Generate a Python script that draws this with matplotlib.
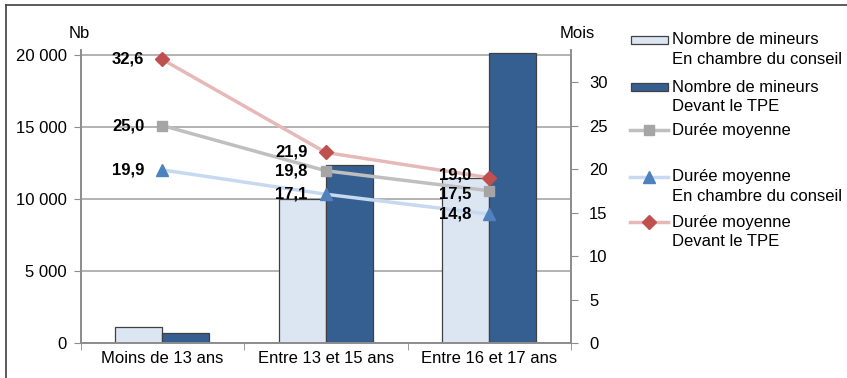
import matplotlib.pyplot as plt
from matplotlib.lines import Line2D
from matplotlib.patches import Rectangle
import numpy as np

plt.rcParams['font.family'] = ['Liberation Sans', 'DejaVu Sans']
plt.rcParams['font.size'] = 12

categories = ["Moins de 13 ans", "Entre 13 et 15 ans", "Entre 16 et 17 ans"]
nb_chambre = [1090, 9980, 11440]
nb_tpe = [720, 12360, 20120]
duree_moyenne = [25.0, 19.8, 17.5]
duree_chambre = [19.9, 17.1, 14.8]
duree_tpe = [32.6, 21.9, 19.0]

legend_labels = [
    "Nombre de mineurs\nEn chambre du conseil",
    "Nombre de mineurs\nDevant le TPE",
    "Durée moyenne",
    "Durée moyenne\nEn chambre du conseil",
    "Durée moyenne\nDevant le TPE",
]

W, H = 847, 378
fig = plt.figure(figsize=(W / 100, H / 100), dpi=100)
ax = fig.add_axes([80.5 / W, (H - 343) / H, (571 - 80.5) / W, 293 / H])
ax2 = ax.twinx()

axis_grey = "#8c8c8c"
grid_grey = "#a6a6a6"
c_light, c_dark = "#dce6f2", "#365f91"
e_bar = "#404040"

x = np.arange(len(categories))
bw = 0.286
ax.bar(x - bw / 2, nb_chambre, bw, color=c_light, edgecolor=e_bar, linewidth=0.9, zorder=2)
ax.bar(x + bw / 2, nb_tpe, bw, color=c_dark, edgecolor=e_bar, linewidth=0.9, zorder=2)

ax.set_xlim(-0.5, 2.5)
ax.set_ylim(0, 20347)
ax.set_yticks(range(0, 20001, 5000))
ax.set_yticklabels([f"{v:,}".replace(",", " ") for v in range(0, 20001, 5000)])
ax.yaxis.grid(True, color=grid_grey, linewidth=1.2, zorder=0)
ax.set_axisbelow(True)
ax.set_xticks(x)
ax.set_xticklabels(categories)
ax.set_xticks([-0.5, 0.5, 1.5, 2.5], minor=True)
ax.tick_params(axis="x", which="major", length=0, pad=6)
ax.tick_params(axis="x", which="minor", length=5, color=axis_grey)
ax.tick_params(axis="y", length=5, color=axis_grey, pad=5)

line_specs = [
    (duree_moyenne, "#bfbfbf", "#a5a5a5", "s", 7),
    (duree_chambre, "#c6d9f1", "#4f81bd", "^", 8),
    (duree_tpe, "#e6b9b8", "#c0504d", "D", 7),
]
# small vertical nudges (pixels) so the crowded labels don't collide
label_dy = [[0, 0, -3], [0, 0, 0], [0, 0, 3]]
for (vals, lc, mc, mk, ms), dys in zip(line_specs, label_dy):
    ax2.plot(x, vals, color=lc, linewidth=2.5, marker=mk, markersize=ms,
             markerfacecolor=mc, markeredgecolor=mc, zorder=3)
    for xi, v, dy in zip(x, vals, dys):
        ax2.annotate(f"{v:.1f}".replace(".", ","), (xi, v), xytext=(-18, dy),
                     textcoords="offset pixels", ha="right", va="center",
                     fontweight="bold", fontsize=12)

ax2.set_ylim(0, 33.68)
ax2.set_yticks(range(0, 31, 5))
ax2.tick_params(axis="y", length=5, color=axis_grey, pad=8)

for a in (ax, ax2):
    a.spines["top"].set_visible(False)
    for s in ("left", "right", "bottom"):
        a.spines[s].set_color(axis_grey)
        a.spines[s].set_linewidth(1.2)


def fx(px):
    return px / W


def fy(py):
    return 1 - py / H


fig.text(fx(69), fy(33), "Nb", ha="left", va="center")
fig.text(fx(560), fy(33), "Mois", ha="left", va="center")

# legend drawn by hand to match the original spacing
leg_y = [40, 87, 130, 177, 222]
for i, (lab, y) in enumerate(zip(legend_labels, leg_y)):
    if i < 2:
        fig.add_artist(Rectangle((fx(631), fy(y + 4)), 37 / W, 8 / H,
                                 facecolor=[c_light, c_dark][i],
                                 edgecolor=e_bar, linewidth=0.9,
                                 transform=fig.transFigure))
    else:
        vals, lc, mc, mk, ms = line_specs[i - 2]
        fig.add_artist(Line2D([fx(630), fx(668)], [fy(y), fy(y)], color=lc,
                              linewidth=2.5, transform=fig.transFigure))
        fig.add_artist(Line2D([fx(649)], [fy(y)], marker=mk, markersize=ms,
                              color=mc, linestyle="none",
                              transform=fig.transFigure))
    for j, part in enumerate(lab.split("\n")):
        fig.text(fx(672), fy(y + 19.5 * j), part, ha="left", va="center")

# outline of the chart frame (top and left edges only)
fig.add_artist(Line2D([fx(6), fx(847)], [fy(5), fy(5)], color="#404040",
                      linewidth=1.2, transform=fig.transFigure))
fig.add_artist(Line2D([fx(6), fx(6)], [fy(5), fy(378)], color="#404040",
                      linewidth=1.2, transform=fig.transFigure))

fig.savefig("out.png", dpi=100)
